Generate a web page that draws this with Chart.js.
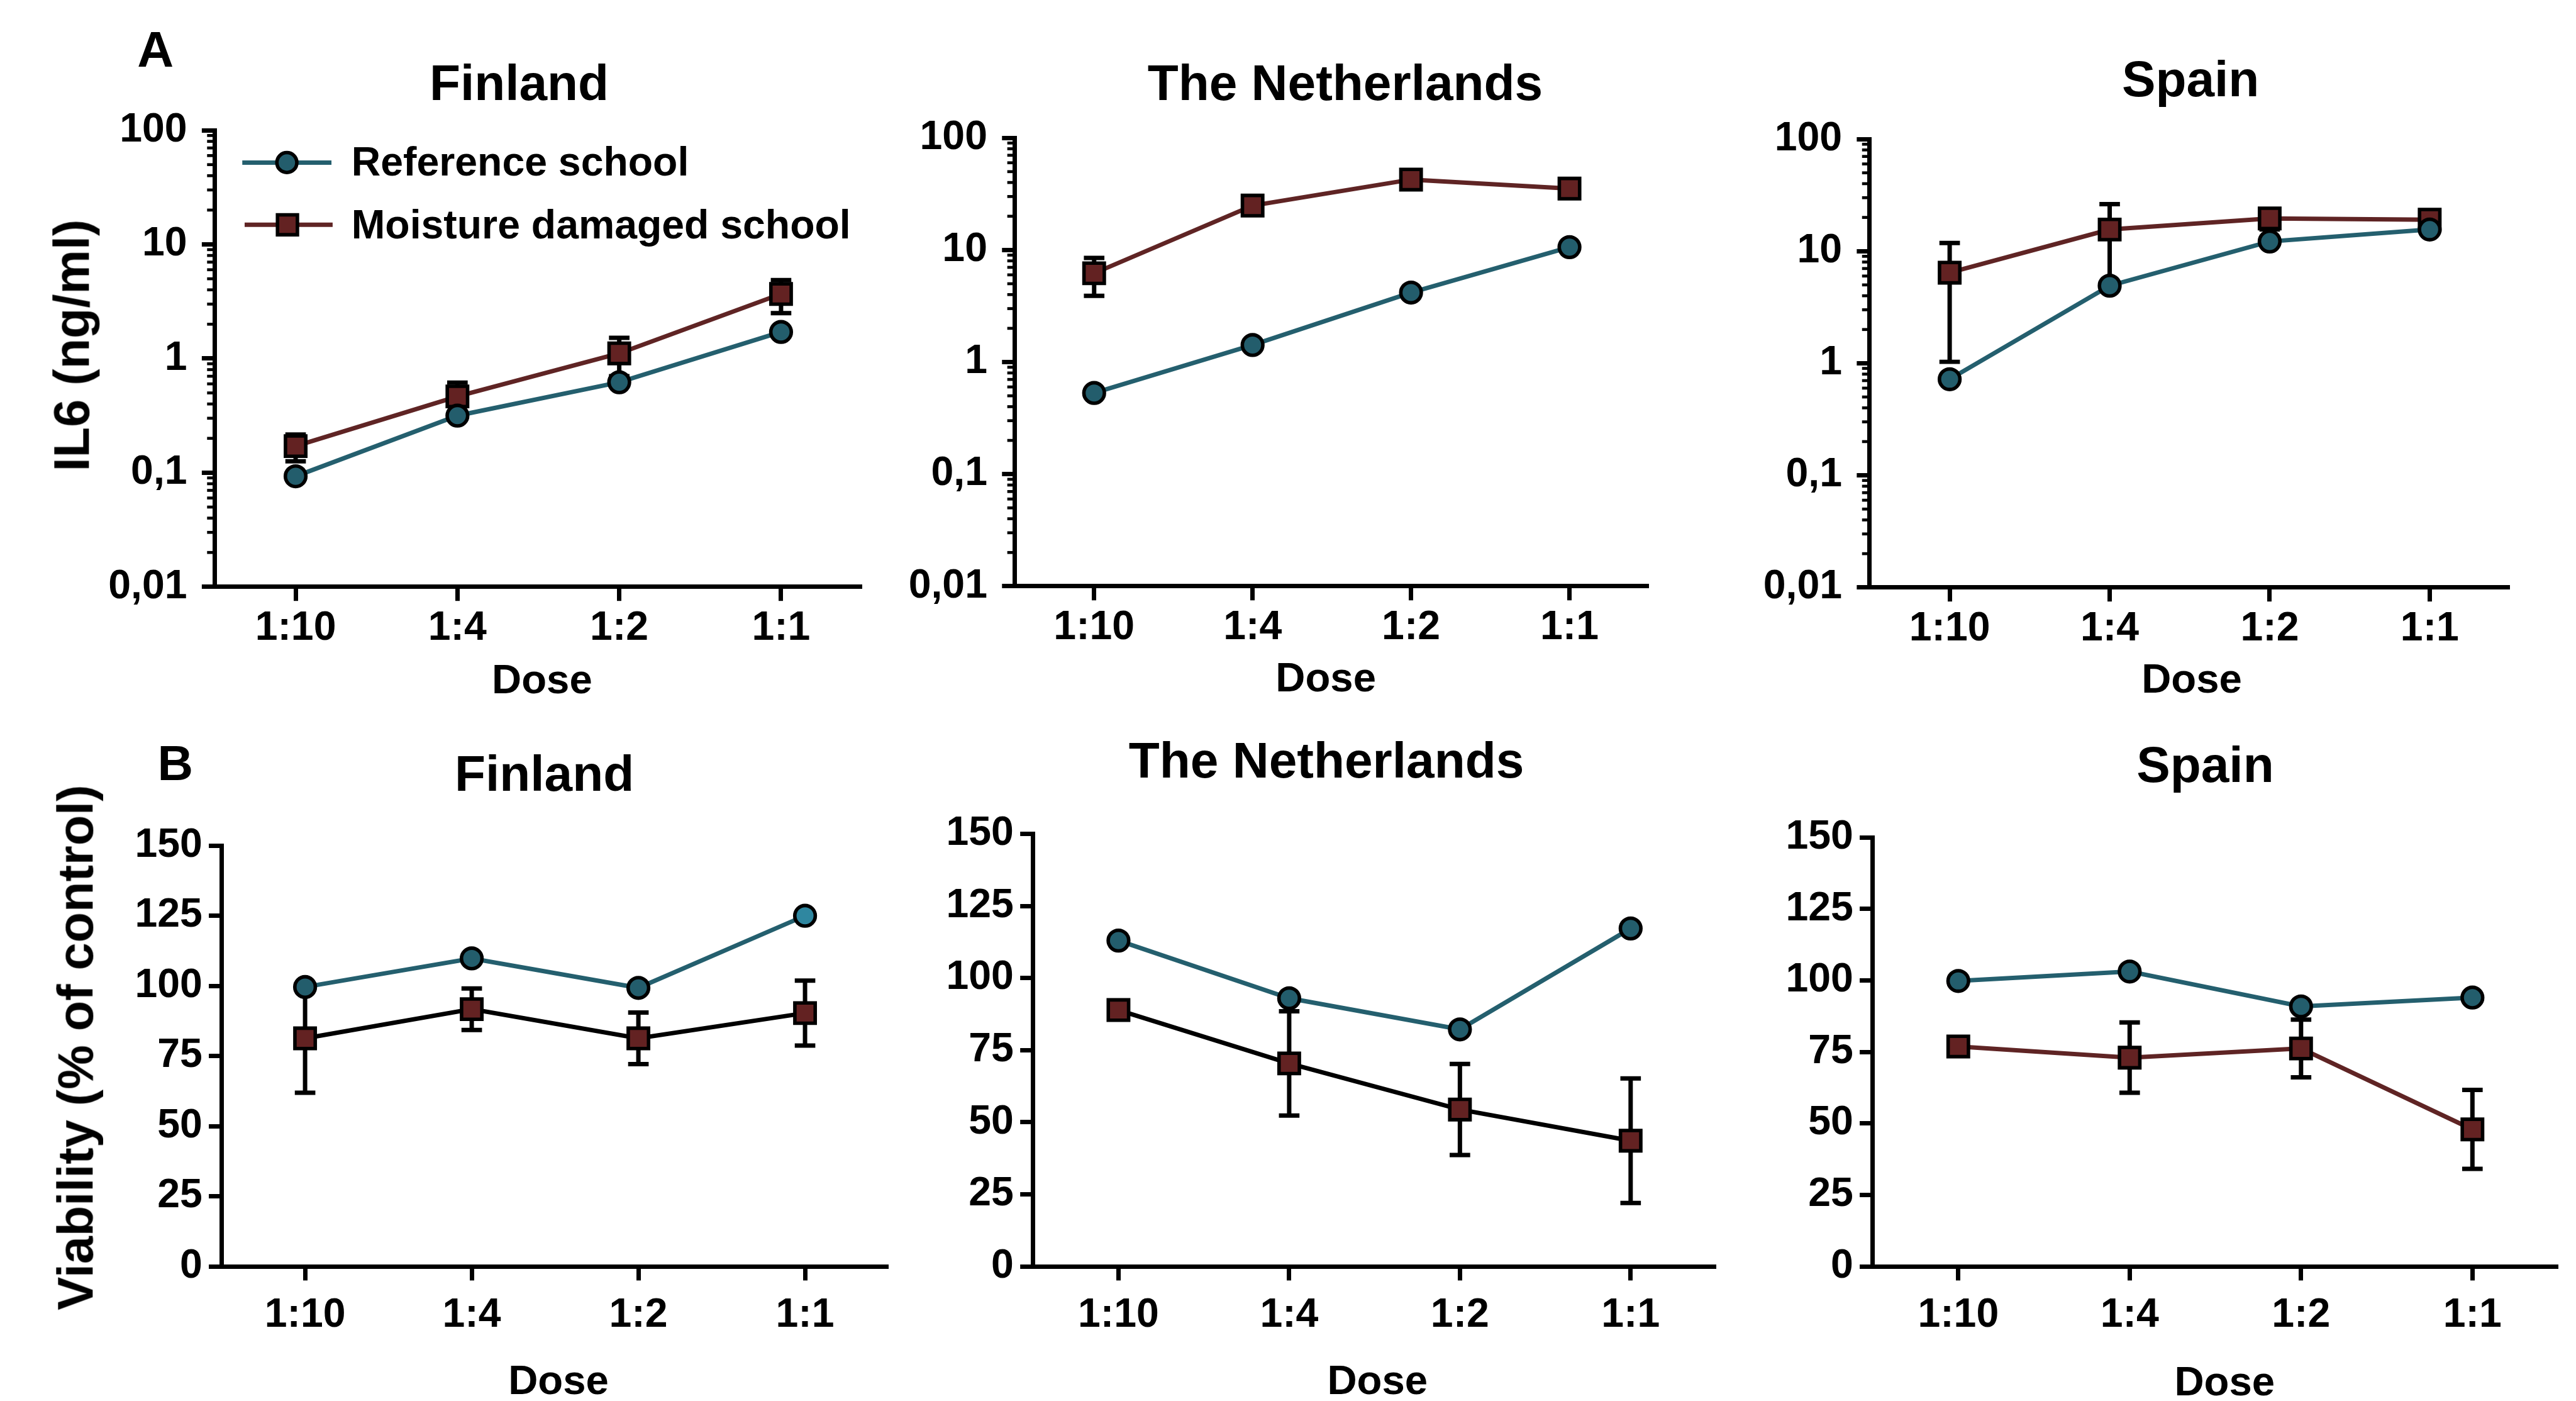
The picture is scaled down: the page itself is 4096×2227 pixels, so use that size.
<!DOCTYPE html>
<html><head><meta charset="utf-8">
<script src="https://cdn.jsdelivr.net/npm/chart.js@4.4.1/dist/chart.umd.min.js"></script>
<style>
html,body{margin:0;padding:0;background:#fff;}
#wrap{position:relative;width:4096px;height:2227px;overflow:hidden;background:#fff;}
#wrap canvas{position:absolute;}
.t{position:absolute;font-family:'Liberation Sans',Arial,Helvetica,sans-serif;font-weight:bold;color:#000;white-space:nowrap;line-height:1;}
</style></head><body><div id="wrap"></div>
<script>
// ---------------- DATA ----------------
const doses = ['1:10', '1:4', '1:2', '1:1'];
const il6TickValues = [0.01, 0.1, 1, 10, 100];
const il6TickLabels = ['0,01', '0,1', '1', '10', '100'];
const viabTickValues = [0, 25, 50, 75, 100, 125, 150];
const viabTickLabels = ['0', '25', '50', '75', '100', '125', '150'];
const seriesNames = ['Reference school', 'Moisture damaged school'];

// A: IL6 (ng/ml)
const il6FinlandRef = [0.093, 0.316, 0.62, 1.71];
const il6FinlandMd = [0.171, 0.466, 1.11, 3.68];
const il6FinlandMdSd = [0.045, 0.15, 0.41, 1.18];
const il6NetherlandsRef = [0.53, 1.42, 4.17, 10.6];
const il6NetherlandsMd = [6.2, 24.9, 42.5, 35.3];
const il6NetherlandsMdSd = [2.3, 3, 2, 2];
const il6SpainRef = [0.72, 4.92, 12.2, 15.6];
const il6SpainMd = [6.43, 15.6, 19.6, 19.1];
const il6SpainMdSd = [5.4, 10.7, 4, 2];

// B: Viability (% of control)
const viabFinlandRef = [99.6, 109.8, 99.3, 125];
const viabFinlandMd = [81.3, 91.7, 81.3, 90.3];
const viabFinlandMdSd = [19.4, 7.4, 9.2, 11.6];
const viabNetherlandsRef = [113, 93, 82.2, 117.2];
const viabNetherlandsMd = [88.9, 70.4, 54.4, 43.6];
const viabNetherlandsMdSd = [0, 18.1, 15.8, 21.6];
const viabSpainRef = [99.8, 103.1, 90.9, 94.0];
const viabSpainMd = [76.9, 73.0, 76.2, 47.9];
const viabSpainMdSd = [0, 12.3, 10.1, 13.8];

// ---------------- STYLE / LAYOUT ----------------
const S = 4096 / 4391;
const FONT = "'Liberation Sans', Arial, Helvetica, sans-serif";
const TEAL_LINE = '#245f6e', TEAL_FILL = '#235d6c', TEAL_LIGHT = '#2f87a0';
const RED_LINE = '#5f2424', RED_FILL = '#632222';
const LW = 7.5;
const wrap = document.getElementById('wrap');

const panels = [
  {L:366, R:1470, T:222, B:1000, log:true, ref:il6FinlandRef, md:il6FinlandMd, sd:il6FinlandMdSd, mdLine:RED_LINE, legend:true},
  {L:1730, R:2811, T:235, B:999, log:true, ref:il6NetherlandsRef, md:il6NetherlandsMd, sd:il6NetherlandsMdSd, mdLine:RED_LINE},
  {L:3187, R:4278, T:237, B:1001, log:true, ref:il6SpainRef, md:il6SpainMd, sd:il6SpainMdSd, mdLine:RED_LINE},
  {L:378, R:1515, T:1441, B:2158, log:false, ref:viabFinlandRef, md:viabFinlandMd, sd:viabFinlandMdSd, mdLine:'#000', refFill:[TEAL_FILL,TEAL_FILL,TEAL_FILL,TEAL_LIGHT]},
  {L:1761, R:2926, T:1421, B:2158, log:false, ref:viabNetherlandsRef, md:viabNetherlandsMd, sd:viabNetherlandsMdSd, mdLine:'#000'},
  {L:3192, R:4391, T:1427, B:2158, log:false, ref:viabSpainRef, md:viabSpainMd, sd:viabSpainMdSd, mdLine:RED_LINE}
];

function addText(txt, x, y, size, opts) {
  opts = opts || {};
  const d = document.createElement('div');
  d.className = 't';
  d.textContent = txt;
  d.style.fontSize = (size * S) + 'px';
  d.style.left = (x * S) + 'px';
  d.style.top = (y * S) + 'px';
  let tr = opts.left ? 'translate(0,-50%)' : 'translate(-50%,-50%)';
  if (opts.rotate) tr += ' rotate(-90deg)';
  d.style.transform = tr;
  wrap.appendChild(d);
}

const errorBars = {
  id: 'errorBars',
  beforeDatasetsDraw(chart, args, opts) {
    const sds = opts.sd; if (!sds) return;
    const ds = chart.data.datasets[opts.dataset];
    const meta = chart.getDatasetMeta(opts.dataset);
    const y = chart.scales.y, ctx = chart.ctx;
    ctx.save();
    ctx.strokeStyle = '#000'; ctx.lineWidth = LW * S; ctx.lineCap = 'butt';
    meta.data.forEach((pt, i) => {
      const sd = sds[i]; if (!sd) return;
      const v = ds.data[i];
      const lo = Math.max(v - sd, y.min);
      const yt = y.getPixelForValue(v + sd), yb = y.getPixelForValue(lo);
      const cw = 17.5 * S;
      ctx.beginPath();
      ctx.moveTo(pt.x, yt); ctx.lineTo(pt.x, yb);
      ctx.moveTo(pt.x - cw, yt); ctx.lineTo(pt.x + cw, yt);
      ctx.moveTo(pt.x - cw, yb); ctx.lineTo(pt.x + cw, yb);
      ctx.stroke();
    });
    ctx.restore();
  }
};

const minorTicks = {
  id: 'minorTicks',
  afterDraw(chart, args, opts) {
    if (!opts.on) return;
    const y = chart.scales.y, ctx = chart.ctx, left = chart.chartArea.left;
    ctx.save(); ctx.strokeStyle = '#000'; ctx.lineWidth = 5 * S;
    for (let d = -2; d <= 1; d++) {
      for (let m = 2; m <= 9; m++) {
        const p = y.getPixelForValue(m * Math.pow(10, d));
        ctx.beginPath(); ctx.moveTo(left - 13 * S, p); ctx.lineTo(left, p); ctx.stroke();
      }
    }
    ctx.restore();
  }
};

function legendPlugin(pl, pt) {
  return {
    id: 'legendSymbols',
    afterDraw(chart) {
      const ctx = chart.ctx;
      const rows = [
        {x1:413, x2:565, y:277, mx:489, color:TEAL_LINE, fill:TEAL_FILL, style:'circle', r:17},
        {x1:417, x2:567, y:383, mx:490, color:RED_LINE, fill:RED_FILL, style:'rect', r:24}
      ];
      rows.forEach(r => {
        ctx.save();
        ctx.strokeStyle = r.color; ctx.lineWidth = LW * S;
        ctx.beginPath();
        ctx.moveTo(r.x1 * S - pl, r.y * S - pt); ctx.lineTo(r.x2 * S - pl, r.y * S - pt);
        ctx.stroke();
        ctx.fillStyle = r.fill; ctx.strokeStyle = '#000'; ctx.lineWidth = 6 * S;
        Chart.helpers.drawPoint(ctx, {pointStyle:r.style, radius:r.r * S, rotation:0, borderWidth:6 * S}, r.mx * S - pl, r.y * S - pt);
        ctx.restore();
      });
    }
  };
}

panels.forEach(p => {
  const cl = p.L - 300, cr = Math.min(p.R + 30, 4391), ct = p.T - 80, cb = p.B + 150;
  const pl = Math.round(cl * S), pr = Math.round(cr * S), pt = Math.round(ct * S), pb = Math.round(cb * S);
  const W = pr - pl, H = pb - pt;
  const aL = p.L * S - pl, aR = pr - p.R * S, aT = p.T * S - pt, aB = pb - p.B * S;
  const canvas = document.createElement('canvas');
  canvas.width = W; canvas.height = H;
  canvas.style.left = pl + 'px'; canvas.style.top = pt + 'px';
  canvas.style.width = W + 'px'; canvas.style.height = H + 'px';
  wrap.appendChild(canvas);

  const tickFont = {family: FONT, size: 69 * S, weight: 'bold'};
  const tickVals = p.log ? il6TickValues : viabTickValues;
  const tickLabs = p.log ? il6TickLabels : viabTickLabels;
  const yScale = {
    type: p.log ? 'logarithmic' : 'linear',
    min: p.log ? 0.01 : 0, max: p.log ? 100 : 150,
    afterBuildTicks(s) { s.ticks = tickVals.map(v => ({value: v, major: true})); },
    afterFit(s) { s.width = aL; },
    grid: {display: true, drawOnChartArea: false, drawTicks: true, tickLength: 22 * S, tickWidth: 7.5 * S, tickColor: '#000'},
    border: {display: true, width: 7.5 * S, color: '#000'},
    ticks: {font: tickFont, color: '#000', padding: (p.log ? 25 : 11) * S, autoSkip: false,
      callback: (v, i) => tickLabs[i]}
  };
  const xScale = {
    type: 'category', offset: true,
    afterFit(s) { s.height = aB; },
    grid: {display: true, drawOnChartArea: false, drawTicks: true, tickLength: 24 * S, tickWidth: 7.5 * S, tickColor: '#000'},
    border: {display: true, width: 7.5 * S, color: '#000'},
    ticks: {font: tickFont, color: '#000', padding: (p.log ? 6 : 18) * S, maxRotation: 0, autoSkip: false}
  };
  const plugins = [errorBars, minorTicks];
  if (p.legend) plugins.push(legendPlugin(pl, pt));
  new Chart(canvas, {
    type: 'line',
    data: {
      labels: doses,
      datasets: [
        {label: seriesNames[0], data: p.ref, borderColor: TEAL_LINE, borderWidth: LW * S,
         pointStyle: 'circle', pointRadius: 17.5 * S, pointBorderWidth: 6 * S, pointBorderColor: '#000',
         pointBackgroundColor: p.refFill || TEAL_FILL, tension: 0, clip: false},
        {label: seriesNames[1], data: p.md, borderColor: p.mdLine, borderWidth: LW * S,
         pointStyle: 'rect', pointRadius: 24.5 * S, pointBorderWidth: 6 * S, pointBorderColor: '#000',
         pointBackgroundColor: RED_FILL, tension: 0, clip: false}
      ]
    },
    options: {
      responsive: false, animation: false, devicePixelRatio: 1,
      layout: {padding: {left: 0, top: aT, right: aR, bottom: 0}},
      plugins: {legend: {display: false}, title: {display: false}, tooltip: {enabled: false},
        errorBars: {sd: p.sd, dataset: 1}, minorTicks: {on: p.log}},
      scales: {x: xScale, y: yScale}
    },
    plugins: plugins
  });
});

// Text
addText('A', 265, 84, 86);
addText('B', 299, 1300, 84);
addText('Finland', 885, 140, 86);
addText('The Netherlands', 2293, 140, 86);
addText('Spain', 3734, 134, 86);
addText('Finland', 928, 1317, 86);
addText('The Netherlands', 2261, 1295, 86);
addText('Spain', 3759, 1303, 86);
addText('Dose', 924, 1158, 70);
addText('Dose', 2260, 1155, 70);
addText('Dose', 3736, 1157, 70);
addText('Dose', 952, 2352, 70);
addText('Dose', 2348, 2352, 70);
addText('Dose', 3792, 2354, 70);
addText('IL6 (ng/ml)', 122, 589, 85, {rotate: true});
addText('Viability (% of control)', 129, 1785, 85, {rotate: true});
addText(seriesNames[0], 599, 276, 69, {left: true});
addText(seriesNames[1], 599, 383, 69, {left: true});
</script>
</body></html>
